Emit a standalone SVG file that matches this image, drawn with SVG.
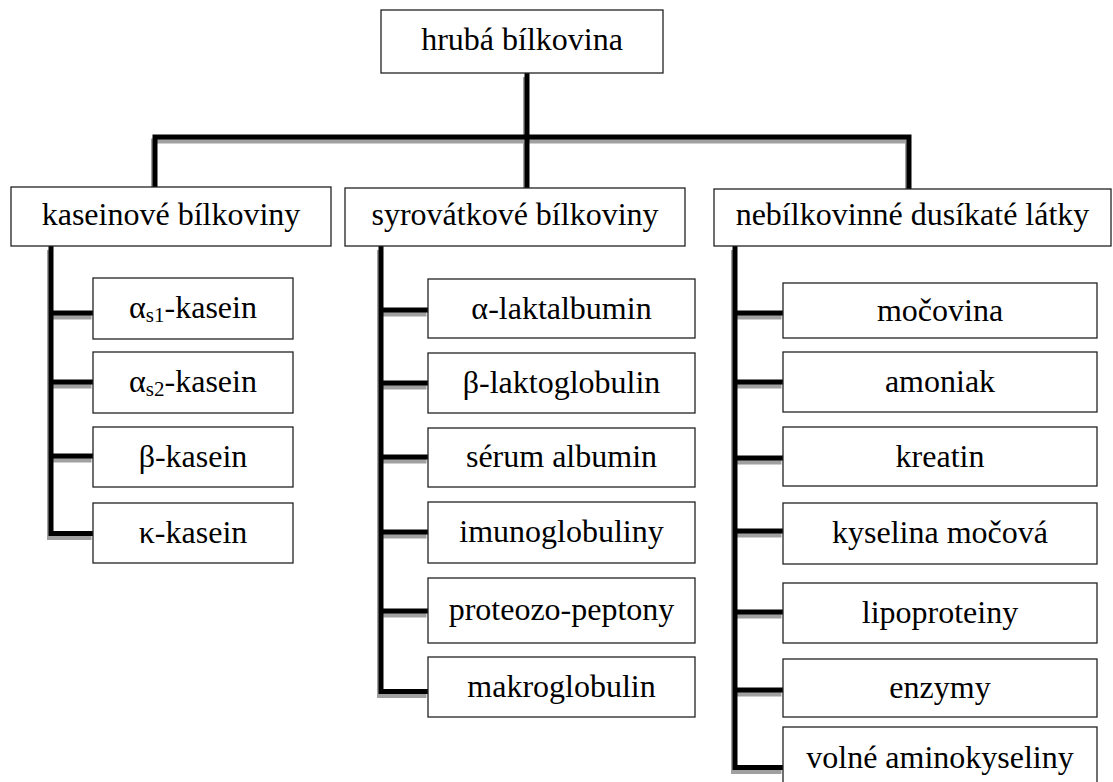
<svg xmlns="http://www.w3.org/2000/svg" width="1113" height="782" viewBox="0 0 1113 782">
<style>
.box{fill:#fff;stroke:#222;stroke-width:1.3}
.t{font-family:'Liberation Serif','Times New Roman',serif;font-size:32px;fill:#000;text-anchor:middle}
.sub{font-size:21px}
.ln{fill:none;stroke:#000;stroke-width:5;stroke-linejoin:miter;stroke-linecap:butt}
.sh{fill:none;stroke:#a0a0a0;stroke-width:5;stroke-linejoin:miter;stroke-linecap:butt}
</style>
<defs>
<g id="conn">
<path d="M527,73 V188"/>
<path d="M155,187 V137 H909 V189"/>
<path d="M51,246 V533.5 H93"/>
<path d="M51,313 H93 M51,382 H93 M51,456 H93"/>
<path d="M381,246 V691.5 H428"/>
<path d="M381,310 H428 M381,383 H428 M381,457 H428 M381,532 H428 M381,611 H428"/>
<path d="M735,246 V767.5 H783"/>
<path d="M735,313 H783 M735,382 H783 M735,458 H783 M735,531 H783 M735,612 H783 M735,690 H783"/>
</g>
</defs>
<g id="connectors">
<use href="#conn" class="sh" transform="translate(-1.5,4)"/>
<use href="#conn" class="ln"/>
</g>
<g id="root"><rect class="box" x="381" y="10" width="282" height="63"/><text class="t" x="522" y="50">hrubá bílkovina</text></g>
<g id="kaseinove"><rect class="box" x="11" y="187" width="320" height="59"/><text class="t" x="171" y="225">kaseinové bílkoviny</text></g>
<g id="syrovatkove"><rect class="box" x="345" y="188" width="340" height="58"/><text class="t" x="515" y="225">syrovátkové bílkoviny</text></g>
<g id="nebilkovinne"><rect class="box" x="714" y="189" width="397" height="57"/><text class="t" x="912.5" y="225">nebílkovinné dusíkaté látky</text></g>

<g id="as1"><rect class="box" x="93" y="278" width="200" height="61"/><text class="t" x="193" y="318">α<tspan class="sub" dy="4">s1</tspan><tspan dy="-4">-kasein</tspan></text></g>
<g id="as2"><rect class="box" x="93" y="352" width="200" height="61"/><text class="t" x="193" y="392">α<tspan class="sub" dy="4">s2</tspan><tspan dy="-4">-kasein</tspan></text></g>
<g id="bkasein"><rect class="box" x="93" y="427" width="200" height="60"/><text class="t" x="193" y="467">β-kasein</text></g>
<g id="kkasein"><rect class="box" x="93" y="503" width="200" height="60"/><text class="t" x="193" y="543">κ-kasein</text></g>

<g id="alakt"><rect class="box" x="428" y="279" width="267" height="59"/><text class="t" x="561.5" y="319">α-laktalbumin</text></g>
<g id="blakto"><rect class="box" x="428" y="353" width="267" height="60"/><text class="t" x="561.5" y="393">β-laktoglobulin</text></g>
<g id="serum"><rect class="box" x="428" y="428" width="267" height="59"/><text class="t" x="561.5" y="467">sérum albumin</text></g>
<g id="imuno"><rect class="box" x="428" y="502" width="267" height="61"/><text class="t" x="561.5" y="542">imunoglobuliny</text></g>
<g id="proteozo"><rect class="box" x="428" y="578" width="267" height="65"/><text class="t" x="561.5" y="620">proteozo-peptony</text></g>
<g id="makro"><rect class="box" x="428" y="657" width="267" height="60"/><text class="t" x="561.5" y="697">makroglobulin</text></g>

<g id="mocovina"><rect class="box" x="783" y="283" width="314" height="55"/><text class="t" x="940" y="321">močovina</text></g>
<g id="amoniak"><rect class="box" x="783" y="352" width="314" height="60"/><text class="t" x="940" y="392">amoniak</text></g>
<g id="kreatin"><rect class="box" x="783" y="427" width="314" height="59"/><text class="t" x="940" y="467">kreatin</text></g>
<g id="kyselina"><rect class="box" x="783" y="503" width="314" height="61"/><text class="t" x="940" y="543">kyselina močová</text></g>
<g id="lipo"><rect class="box" x="783" y="583" width="314" height="60"/><text class="t" x="940" y="623">lipoproteiny</text></g>
<g id="enzymy"><rect class="box" x="783" y="659" width="314" height="58"/><text class="t" x="940" y="698">enzymy</text></g>
<g id="volne"><rect class="box" x="783" y="727" width="314" height="70"/><text class="t" x="940" y="768">volné aminokyseliny</text></g>
</svg>
